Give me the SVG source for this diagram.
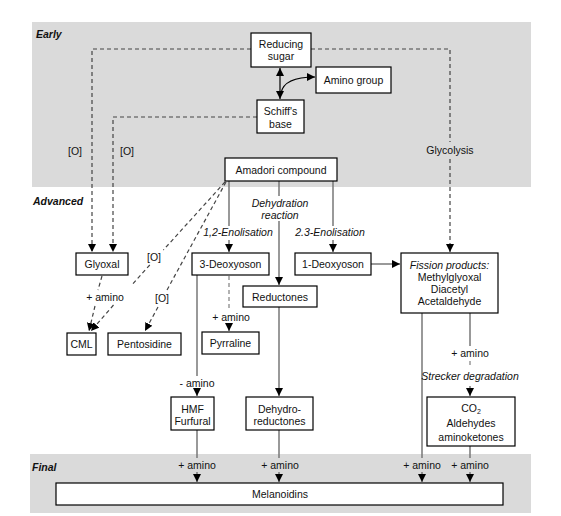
<svg xmlns="http://www.w3.org/2000/svg" width="561" height="516" viewBox="0 0 561 516">
<defs>
<style>
text{font-family:"Liberation Sans",Arial,sans-serif;font-size:10.5px;fill:#111;text-anchor:middle}
.it{font-style:italic}
.stage{font-weight:bold;font-style:italic;text-anchor:start}
.box{fill:#fff;stroke:#000;stroke-width:1.2}
.ln{fill:none;stroke:#777;stroke-width:1.5}
.dash{fill:none;stroke:#444;stroke-width:1.2;stroke-dasharray:4,3}
.ldash{fill:none;stroke:#999;stroke-width:1.5;stroke-dasharray:4,3}
.blk{fill:none;stroke:#000;stroke-width:1.2}
</style>
<marker id="ah" markerUnits="userSpaceOnUse" markerWidth="9" markerHeight="9" refX="8" refY="4" orient="auto-start-reverse" viewBox="0 0 9 8">
<path d="M0,0 L8,4 L0,8 z" fill="#000"/>
</marker>
</defs>
<rect x="32" y="22" width="499" height="165" fill="#dadada"/>
<rect x="30" y="454" width="501" height="59" fill="#dadada"/>
<text class="stage" x="36" y="38">Early</text>
<text class="stage" x="33" y="205">Advanced</text>
<text class="stage" x="32" y="471">Final</text>

<g id="connectors">
<path class="blk" d="M280,68 V99" marker-start="url(#ah)" marker-end="url(#ah)"/>
<path class="blk" d="M281,93 C283,82 294,77 315,77" marker-end="url(#ah)"/>
<path class="dash" d="M251,49 H92 V252" marker-end="url(#ah)"/>
<path class="dash" d="M257,117 H113 V252" marker-end="url(#ah)"/>
<path class="dash" d="M311,49 H450 V142"/>
<path class="dash" d="M450,159 V252" marker-end="url(#ah)"/>
<path class="dash" d="M225,182 L163.4,250"/>
<path class="dash" d="M149.8,265 L131.7,285"/>
<path class="dash" d="M113.5,305 L91,331" marker-end="url(#ah)"/>
<path class="dash" d="M226,182 L167,290"/>
<path class="dash" d="M158,307 L145,331" marker-end="url(#ah)"/>
<path class="dash" d="M102,276 L98,290"/>
<path class="dash" d="M95,306 L89,331" marker-end="url(#ah)"/>
<path class="ln" d="M229,181 V226"/>
<path class="ln" d="M229,240 V252" marker-end="url(#ah)"/>
<path class="ln" d="M333,181 V226"/>
<path class="ln" d="M333,240 V252" marker-end="url(#ah)"/>
<path class="ln" d="M279,181 V196"/>
<path class="ln" d="M279,221 V285" marker-end="url(#ah)"/>
<path class="ldash" d="M229,276 V309"/>
<path class="ln" d="M229,323 V331" marker-end="url(#ah)"/>
<path class="ln" d="M197,275 V376"/>
<path class="ln" d="M197,389 V396" marker-end="url(#ah)"/>
<path class="ln" d="M279,307 V396" marker-end="url(#ah)"/>
<path class="ln" d="M371,264 H400" marker-end="url(#ah)"/>
<path class="ln" d="M422,313 V458"/>
<path class="ln" d="M422,472 V482" marker-end="url(#ah)"/>
<path class="ln" d="M470,313 V346"/>
<path class="ldash" d="M470,361 V368"/>
<path class="ln" d="M470,386 V396" marker-end="url(#ah)"/>
<path class="ln" d="M197,430 V458"/>
<path class="ln" d="M197,472 V482" marker-end="url(#ah)"/>
<path class="ln" d="M279,430 V458"/>
<path class="ln" d="M279,472 V482" marker-end="url(#ah)"/>
<path class="ln" d="M470,446 V458"/>
<path class="ln" d="M470,472 V482" marker-end="url(#ah)"/>
</g>

<g id="labels">
<text x="75" y="155">[O]</text>
<text x="127" y="155">[O]</text>
<text x="450" y="154">Glycolysis</text>
<text x="154" y="261">[O]</text>
<text x="162" y="302">[O]</text>
<text x="105" y="301">+ amino</text>
<text class="it" x="238" y="236">1,2-Enolisation</text>
<text class="it" x="330" y="236">2.3-Enolisation</text>
<text class="it" x="280" y="207">Dehydration</text>
<text class="it" x="280" y="219">reaction</text>
<text x="231" y="321">+ amino</text>
<text x="197" y="387">- amino</text>
<text x="470" y="357">+ amino</text>
<text class="it" x="470" y="380">Strecker degradation</text>
<text x="197" y="469">+ amino</text>
<text x="280" y="469">+ amino</text>
<text x="422" y="469">+ amino</text>
<text x="470" y="469">+ amino</text>
</g>

<g id="reducing-sugar"><rect class="box" x="251" y="33" width="60" height="34"/><text x="281" y="48">Reducing</text><text x="281" y="60">sugar</text></g>
<g id="schiffs-base"><rect class="box" x="257" y="100" width="47" height="33"/><text x="280.5" y="115">Schiff's</text><text x="280.5" y="128">base</text></g>
<g id="amino-group"><rect class="box" x="316" y="67" width="75" height="26"/><text x="353.5" y="84">Amino group</text></g>
<g id="amadori"><rect class="box" x="225" y="158" width="112" height="23"/><text x="281" y="173.5">Amadori compound</text></g>
<g id="glyoxal"><rect class="box" x="76" y="253" width="52" height="22"/><text x="102" y="268">Glyoxal</text></g>
<g id="deoxyoson3"><rect class="box" x="192" y="253" width="77" height="22"/><text x="230.5" y="268">3-Deoxyoson</text></g>
<g id="deoxyoson1"><rect class="box" x="295" y="253" width="76" height="22"/><text x="333" y="268">1-Deoxyoson</text></g>
<g id="fission"><rect class="box" x="401" y="253" width="97" height="60"/><text class="it" x="449.5" y="269">Fission products:</text><text x="449.5" y="281">Methylglyoxal</text><text x="449.5" y="293">Diacetyl</text><text x="449.5" y="305">Acetaldehyde</text></g>
<g id="reductones"><rect class="box" x="243" y="286" width="74" height="21"/><text x="280" y="300.5">Reductones</text></g>
<g id="cml"><rect class="box" x="67" y="333" width="29" height="22"/><text x="81.5" y="348">CML</text></g>
<g id="pentosidine"><rect class="box" x="108" y="333" width="73" height="22"/><text x="144.5" y="348">Pentosidine</text></g>
<g id="pyrraline"><rect class="box" x="202" y="332" width="57" height="22"/><text x="230.5" y="347">Pyrraline</text></g>
<g id="hmf"><rect class="box" x="171" y="397" width="43" height="33"/><text x="192.5" y="413">HMF</text><text x="192.5" y="425">Furfural</text></g>
<g id="dehydroreductones"><rect class="box" x="246" y="397" width="67" height="33"/><text x="279.5" y="413">Dehydro-</text><text x="279.5" y="425">reductones</text></g>
<g id="co2"><rect class="box" x="427" y="397" width="88" height="49"/><text x="471" y="412">CO<tspan font-size="7" dy="2">2</tspan></text><text x="471" y="427">Aldehydes</text><text x="471" y="441">aminoketones</text></g>
<g id="melanoidins"><rect class="box" x="56" y="483" width="447" height="22"/><text x="280" y="498">Melanoidins</text></g>
</svg>
